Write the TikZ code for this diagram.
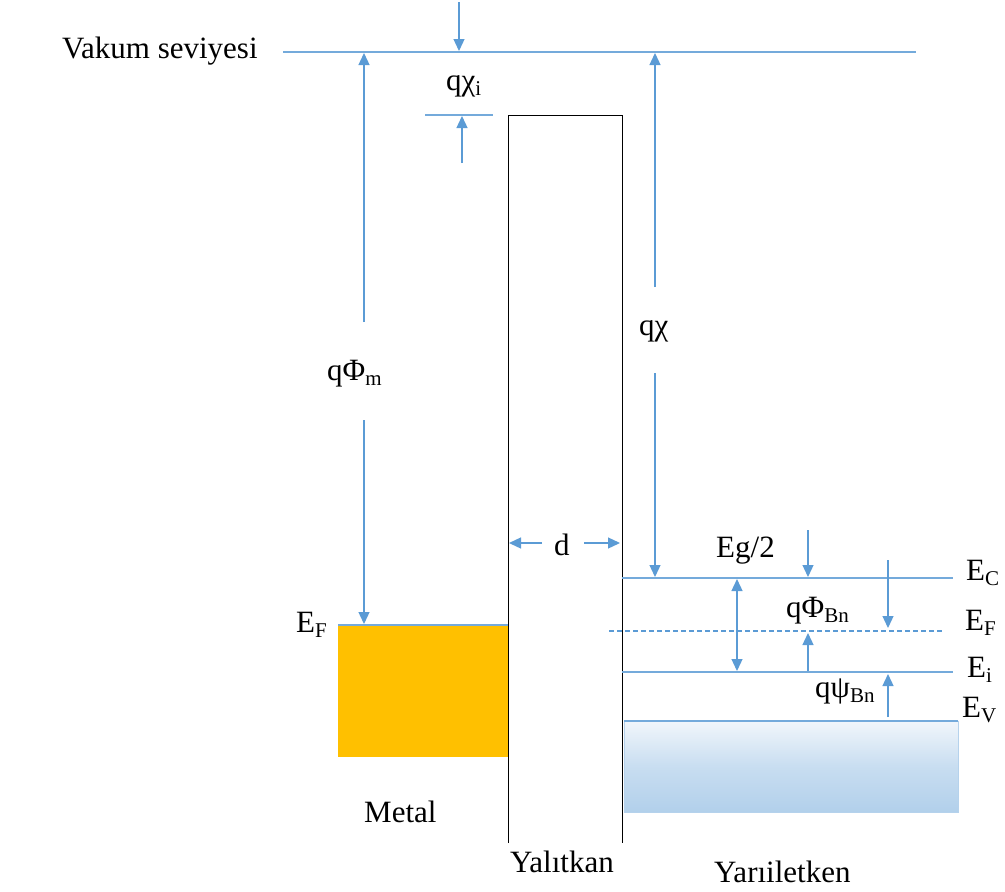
\documentclass[tikz,border=0pt]{standalone}
\usepackage{fontspec}
\setmainfont{Liberation Serif}
\usetikzlibrary{arrows.meta}
\definecolor{lblue}{HTML}{5B9BD5}
\definecolor{gold}{HTML}{FFC000}
\definecolor{vtop}{HTML}{F1F6FB}
\definecolor{vbot}{HTML}{B2D0EB}
\newcommand{\sbs}[1]{\raisebox{-0.38ex}{\fontsize{21}{21}\selectfont #1}}
\begin{document}
\begin{tikzpicture}[x=1pt,y=-1pt,
  lev/.style={draw=lblue!85, line width=1.4pt},
  dim/.style={draw=lblue, line width=1.3pt, -{Triangle[width=11pt,length=12pt]}},
  ddim/.style={draw=lblue, line width=1.3pt, {Triangle[width=11pt,length=12pt]}-{Triangle[width=11pt,length=12pt]}},
  lbl/.style={font=\fontsize{31}{31}\selectfont, inner sep=0pt, anchor=base west},
]
\useasboundingbox (0,0) rectangle (1005,892);

% metal and valence band
\fill[gold] (338,625) rectangle (508,757);
\shade[top color=vtop, bottom color=vbot, middle color=vbot!65!vtop] (624,721) rectangle (958,812);
\draw[lblue!45, line width=0.9pt] (624,721) rectangle (958,812);

% insulator
\draw[black, line width=1pt] (508,843) -- (508,115) -- (622,115) -- (622,843);

% levels
\coordinate (vacL) at (283,52); \coordinate (vacR) at (916,52);
\draw[lev] (vacL) -- (vacR);
\coordinate (ciL) at (425,115); \coordinate (ciR) at (493,115);
\draw[lev] (ciL) -- (ciR);
\coordinate (mfL) at (338,625); \coordinate (mfR) at (508,625);
\draw[lev] (mfL) -- (mfR);
\coordinate (ecL) at (622,578); \coordinate (ecR) at (953,578);
\draw[lev] (ecL) -- (ecR);
\coordinate (efL) at (609,631); \coordinate (efR) at (943,631);
\draw[draw=lblue, line width=1.1pt, dash pattern=on 5pt off 3pt] (efL) -- (efR);
\coordinate (eiL) at (622,672); \coordinate (eiR) at (953,672);
\draw[lev] (eiL) -- (eiR);
\coordinate (evL) at (624,721); \coordinate (evR) at (958,721);
\draw[lev] (evL) -- (evR);

% dimension arrows
\coordinate (a1) at (459,2); \coordinate (a2) at (459,51);
\draw[dim] (a1) -- (a2);
\coordinate (b1) at (462,163); \coordinate (b2) at (462,116);
\draw[dim] (b1) -- (b2);
\coordinate (m1) at (364,322); \coordinate (m2) at (364,53);
\draw[dim] (m1) -- (m2);
\coordinate (m3) at (364,420); \coordinate (m4) at (364,624);
\draw[dim] (m3) -- (m4);
\coordinate (c1) at (655,287); \coordinate (c2) at (655,53);
\draw[dim] (c1) -- (c2);
\coordinate (c3) at (655,373); \coordinate (c4) at (655,577);
\draw[dim] (c3) -- (c4);
\coordinate (d1) at (542,543); \coordinate (d2) at (509,543);
\draw[dim] (d1) -- (d2);
\coordinate (d3) at (584,543); \coordinate (d4) at (620,543);
\draw[dim] (d3) -- (d4);
\coordinate (g1) at (808,530); \coordinate (g2) at (808,577);
\draw[dim] (g1) -- (g2);
\coordinate (h1) at (737,579); \coordinate (h2) at (737,671);
\draw[ddim] (h1) -- (h2);
\coordinate (p1) at (888,560); \coordinate (p2) at (888,628);
\draw[dim] (p1) -- (p2);
\coordinate (u1) at (808,671); \coordinate (u2) at (808,633);
\draw[dim] (u1) -- (u2);
\coordinate (s1) at (888,717); \coordinate (s2) at (888,674);
\draw[dim] (s1) -- (s2);

% labels
\node[lbl] (tvac) at (62,58) {Vakum seviyesi};
\node[lbl] (tchii) at (446,90) {qχ\sbs{i}};
\node[lbl] (tphim) at (327,380) {qΦ\sbs{m}};
\node[lbl] (tchi) at (639,335) {qχ};
\node[lbl] (tefm) at (296,632) {E\sbs{F}};
\node[lbl] (tmetal) at (364,822) {Metal};
\node[lbl] (td) at (554,555) {d};
\node[lbl] (teg) at (716,557) {Eg/2};
\node[lbl] (tphib) at (786,617) {qΦ\sbs{Bn}};
\node[lbl] (tpsib) at (815,697) {qψ\sbs{Bn}};
\node[lbl] (tec) at (966,580) {E\sbs{C}};
\node[lbl] (tef) at (965,630) {E\sbs{F}};
\node[lbl] (tei) at (967,677) {E\sbs{i}};
\node[lbl] (tev) at (962,717) {E\sbs{V}};
\node[lbl] (tins) at (510,872) {Yalıtkan};
\node[lbl] (tsemi) at (714,882) {Yarıiletken};
\end{tikzpicture}
\end{document}
